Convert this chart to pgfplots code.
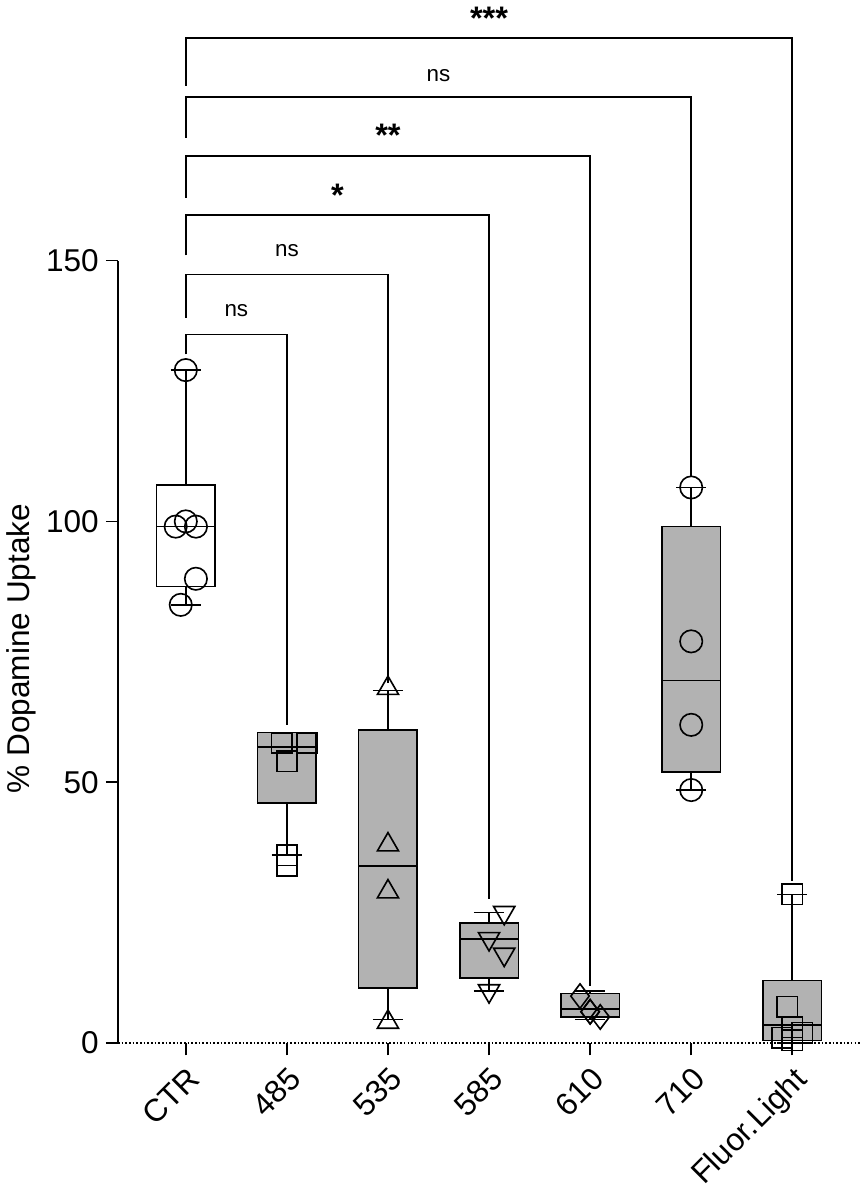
\documentclass[border=0pt]{standalone}
\usepackage{fontspec}
\setmainfont{Liberation Sans}
\usepackage{pgfplots}
\pgfplotsset{compat=1.18}
\usepgfplotslibrary{statistics}
\begin{document}
\begin{tikzpicture}
\begin{axis}[
  scale only axis, width=365pt, height=510pt,
  xmin=-0.67, xmax=6.68, ymin=0, ymax=199,
  axis line style={draw=none},
  clip=false,
  ytick={0,50,100,150},
  xtick={0,1,2,3,4,5,6},
  xtick pos=bottom, ytick pos=left,
  xticklabels={CTR,485,535,585,610,710,Fluor.Light},
  xticklabel style={rotate=45, anchor=north east, font=\fontsize{15.5}{18}\selectfont},
  yticklabel style={font=\fontsize{15.5}{18}\selectfont},
  /pgf/number format/assume math mode=true,
  tick align=outside, tick style={black, thick}, major tick length=6pt,
  ylabel={\% Dopamine Uptake},
  ylabel style={font=\fontsize{15.5}{18}\selectfont, at={(axis description cs:-0.13,0.38)}, anchor=center},
  boxplot/draw direction=y,
]
\draw[thick] (axis cs:-0.67,0) -- (axis cs:-0.67,150);
\draw[densely dotted, thick] (axis cs:-0.67,0) -- (axis cs:6.68,0);
% boxes
\addplot[black, thick, fill=white, boxplot prepared={draw position=0, lower whisker=84, lower quartile=87.5, median=99, upper quartile=107, upper whisker=129, box extend=0.58, whisker extend=0.3}] coordinates {};
\addplot[black, thick, fill=gray!60, boxplot prepared={draw position=1, lower whisker=36, lower quartile=46, median=56.7, upper quartile=59.5, upper whisker=59.5, box extend=0.58, whisker extend=0.3}] coordinates {};
\addplot[black, thick, fill=gray!60, boxplot prepared={draw position=2, lower whisker=4.5, lower quartile=10.5, median=34, upper quartile=60, upper whisker=67.6, box extend=0.58, whisker extend=0.3}] coordinates {};
\addplot[black, thick, fill=gray!60, boxplot prepared={draw position=3, lower whisker=10, lower quartile=12.5, median=20, upper quartile=23, upper whisker=25, box extend=0.58, whisker extend=0.3}] coordinates {};
\addplot[black, thick, fill=gray!60, boxplot prepared={draw position=4, lower whisker=4.5, lower quartile=5, median=6.5, upper quartile=9.5, upper whisker=10, box extend=0.58, whisker extend=0.3}] coordinates {};
\addplot[black, thick, fill=gray!60, boxplot prepared={draw position=5, lower whisker=48.5, lower quartile=52, median=69.5, upper quartile=99, upper whisker=106.5, box extend=0.58, whisker extend=0.3}] coordinates {};
\addplot[black, thick, fill=gray!60, boxplot prepared={draw position=6, lower whisker=0, lower quartile=0.5, median=3.5, upper quartile=12, upper whisker=28.5, box extend=0.58, whisker extend=0.3}] coordinates {};
% points
\addplot[only marks, mark=o, mark size=5.5pt, thick] coordinates {(0,129) (-0.1,99) (0,100) (0.1,99) (0.1,89) (-0.05,84)};
\addplot[only marks, mark=square, mark size=5pt, thick] coordinates {(0.95,57.5) (1.2,57.5) (1,54) (1,36) (1,34)};
\addplot[only marks, mark=triangle, mark size=6pt, thick] coordinates {(2,68) (2,38) (2,29) (2,4)};
\addplot[only marks, mark=triangle, mark options={rotate=180}, mark size=6pt, thick] coordinates {(3.15,25) (3,20) (3.15,17) (3,10)};
\addplot[only marks, mark=diamond, mark size=6pt, thick] coordinates {(3.9,9) (4,6) (4.1,5) (4,6)};
\addplot[only marks, mark=o, mark size=5.5pt, thick] coordinates {(5,106.5) (5,77) (5,61) (5,48.5)};
\addplot[only marks, mark=square, mark size=5pt, thick] coordinates {(6,28.5) (5.95,7) (6,3) (6.1,2) (5.9,1) (6,0.5)};
% brackets
\draw[thick] (axis cs:0,132) -- (axis cs:0,135.8) -- (axis cs:1,135.8) -- (axis cs:1,61);
\node[font=\fontsize{11}{13}\selectfont] at (axis cs:0.5,140.5) {ns};
\draw[thick] (axis cs:0,139) -- (axis cs:0,147.3) -- (axis cs:2,147.3) -- (axis cs:2,69);
\node[font=\fontsize{11}{13}\selectfont] at (axis cs:1,152) {ns};
\draw[thick] (axis cs:0,151) -- (axis cs:0,158.7) -- (axis cs:3,158.7) -- (axis cs:3,27.6);
\node[font=\bfseries\fontsize{16}{18}\selectfont] at (axis cs:1.5,162.5) {*};
\draw[thick] (axis cs:0,162) -- (axis cs:0,170) -- (axis cs:4,170) -- (axis cs:4,11);
\node[font=\bfseries\fontsize{16}{18}\selectfont] at (axis cs:2,174) {**};
\draw[thick] (axis cs:0,173.5) -- (axis cs:0,181.3) -- (axis cs:5,181.3) -- (axis cs:5,108.5);
\node[font=\fontsize{11}{13}\selectfont] at (axis cs:2.5,185.5) {ns};
\draw[thick] (axis cs:0,183.5) -- (axis cs:0,192.7) -- (axis cs:6,192.7) -- (axis cs:6,31);
\node[font=\bfseries\fontsize{16}{18}\selectfont] at (axis cs:3,196.5) {***};
\end{axis}
\end{tikzpicture}
\end{document}
